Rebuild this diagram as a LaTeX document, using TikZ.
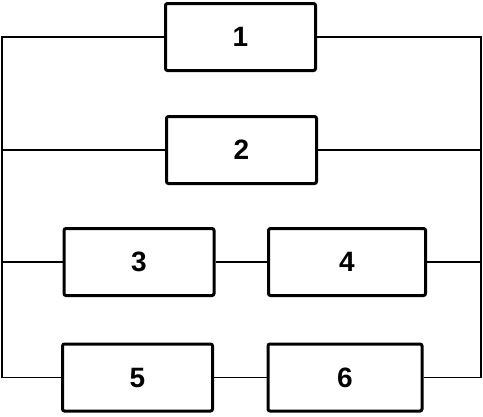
\documentclass[tikz,border=0pt]{standalone}
\usepackage{fontspec}
\setmainfont{Liberation Sans}
\begin{document}
\begin{tikzpicture}[x=1pt,y=-1pt,
  blk/.style={draw, line width=3pt, rounded corners=2pt, minimum width=150pt, minimum height=67pt, inner sep=0pt, font=\bfseries\fontsize{28}{30}\selectfont},
  wire/.style={line width=1.6pt}]
\useasboundingbox (0,0) rectangle (483,416);
\node[blk] (b1) at (240.5,37) {1};
\node[blk] (b2) at (241.5,150) {2};
\node[blk] (b3) at (139,262) {3};
\node[blk, minimum width=157pt] (b4) at (347,262) {4};
\node[blk] (b5) at (137.5,377.5) {5};
\node[blk, minimum width=154pt] (b6) at (345,377.5) {6};
\coordinate (l1) at (2,37);
\coordinate (r1) at (481,37);
\coordinate (l2) at (2,150);
\coordinate (r2) at (481,150);
\coordinate (l3) at (2,262);
\coordinate (r3) at (481,262);
\coordinate (l4) at (2,377.5);
\coordinate (r4) at (481,377.5);
\draw[wire] (b1.west) -- (l1) -- (l4) -- (b5.west);
\draw[wire] (b1.east) -- (r1) -- (r4) -- (b6.east);
\draw[wire] (l2) -- (b2.west);
\draw[wire] (b2.east) -- (r2);
\draw[wire] (l3) -- (b3.west);
\draw[wire] (b3.east) -- (b4.west);
\draw[wire] (b4.east) -- (r3);
\draw[wire] (b5.east) -- (b6.west);
\end{tikzpicture}
\end{document}
